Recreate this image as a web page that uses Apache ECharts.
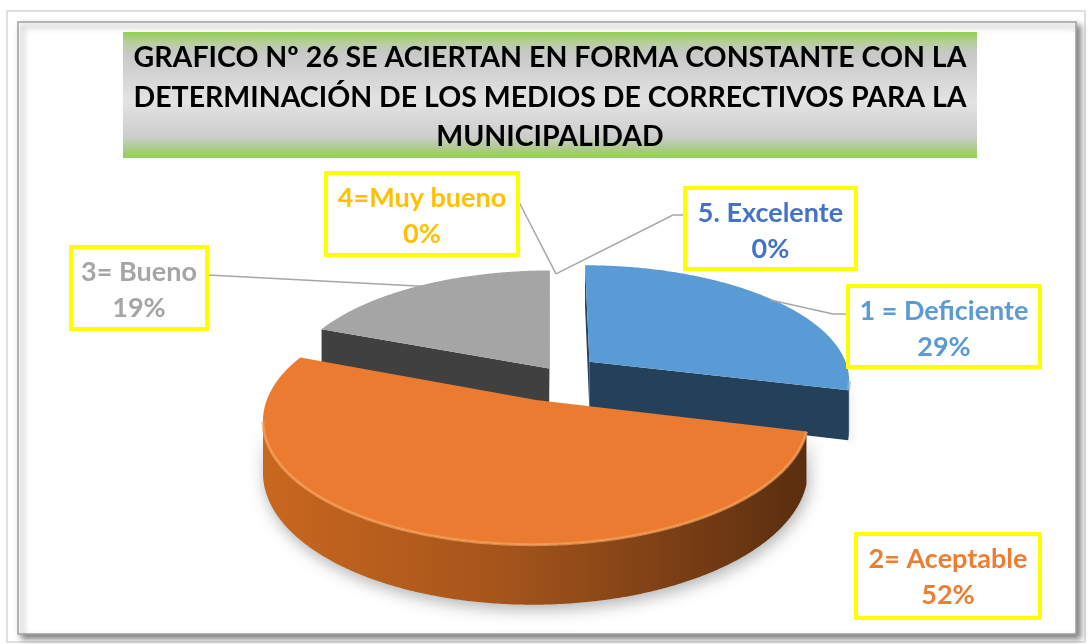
<!DOCTYPE html>
<html><head><meta charset="utf-8">
<script src="https://cdn.jsdelivr.net/npm/echarts@6/dist/echarts.min.js"></script>
<style>html,body{margin:0;padding:0;background:#fff}#c{width:1089px;height:644px}</style>
</head><body><div id="c"></div>
<script>
// ---------- data ----------
const categories = ['1 = Deficiente', '2= Aceptable', '3= Bueno', '4=Muy bueno', '5. Excelente'];
const percentages = [29, 52, 19, 0, 0];
const titleLines = [
  'GRAFICO Nº 26 SE ACIERTAN EN FORMA CONSTANTE CON LA',
  'DETERMINACIÓN DE LOS MEDIOS DE CORRECTIVOS PARA LA',
  'MUNICIPALIDAD'
];

// ---------- styles / layout ----------
const topColors = ['#5B9BD5', '#EA7B30', '#A5A5A5', '#FFC000', '#4472C4'];
const sideColors = ['#24405B', '#8A4818', '#404040', '#7F6000', '#223962'];
const labelColors = ['#5B9BD5', '#ED7D31', '#A5A5A5', '#FFC000', '#4472C4'];
const explodeAmt = [0.165, 0.24, 0.048, 0, 0];
const labelBoxes = [[848, 286, 192, 81], [856, 534, 184, 84], [71, 247, 136, 82], [326, 173, 192, 82], [685, 188, 171, 81]];
const leaderPaths = [[[833, 314], [848, 314]], [], [[208, 275]], [[519, 202]], [[673, 215], [685, 215]]];
const G = { cx: 556, cy: 373, A: 260, B: 114, k: 0.15, H: 49 };
const FONT = 'Lato, "Open Sans", sans-serif';

function P(X, W, down) {
  const s = 1 / (1 + G.k * W);
  return [G.cx + G.A * X * s, G.cy - G.B * W * s + (down ? G.H * s : 0)];
}
const total = percentages.reduce((a, b) => a + b, 0);
function angles(i) {
  let st = 0;
  for (let j = 0; j < i; j++) st += percentages[j];
  return [st / total * Math.PI * 2, (st + percentages[i]) / total * Math.PI * 2];
}
// depth rank: farther slices (larger W of bisector) drawn first
const depth = percentages.map((v, i) => {
  const [a1, a2] = angles(i); const m = (a1 + a2) / 2;
  return (1 + explodeAmt[i]) * Math.cos(m);
});
const order = percentages.map((v, i) => i).sort((a, b) => depth[b] - depth[a]);
const rankOf = {}; order.forEach((idx, r) => rankOf[idx] = r);

const camW = -1 / G.k;

function wallFill(i) {
  if (i === 1) {
    return new echarts.graphic.LinearGradient(0, 0, 1, 0, [
      { offset: 0, color: '#C9671F' }, { offset: 0.45, color: '#A4541B' }, { offset: 1, color: '#5A2E10' }
    ]);
  }
  return sideColors[i];
}

function renderItem(params, api) {
  const i = params.dataIndex;
  const val = api.value(1);
  const [a1, a2] = angles(i);
  const base = rankOf[i] * 6;
  const children = [];
  let anchor;
  if (val > 0) {
    const mid = (a1 + a2) / 2;
    const ox = explodeAmt[i] * Math.sin(mid), ow = explodeAmt[i] * Math.cos(mid);
    const n = Math.max(2, Math.ceil((a2 - a1) / (Math.PI / 360)));
    const pts = [];
    for (let t = 0; t <= n; t++) {
      const th = a1 + (a2 - a1) * t / n;
      pts.push([ox + Math.sin(th), ow + Math.cos(th), th]);
    }
    // cut faces
    [[a1, -Math.cos(a1), Math.sin(a1)], [a2, Math.cos(a2), -Math.sin(a2)]].forEach(([a, nx, nw]) => {
      const ex = ox + Math.sin(a), ew = ow + Math.cos(a);
      const px = (ox + ex) / 2, pw = (ow + ew) / 2;
      if (nx * (0 - px) + nw * (camW - pw) > 0) {
        children.push({ type: 'polygon', z2: base + 1,
          shape: { points: [P(ox, ow), P(ex, ew), P(ex, ew, true), P(ox, ow, true)] },
          style: { fill: sideColors[i] } });
      }
    });
    // outer walls (front-facing parts)
    const segs = []; let seg = [];
    pts.forEach(p => {
      const vis = Math.sin(p[2]) * (0 - p[0]) + Math.cos(p[2]) * (camW - p[1]) > 0;
      if (vis) seg.push(p); else { if (seg.length > 1) segs.push(seg); seg = []; }
    });
    if (seg.length > 1) segs.push(seg);
    segs.forEach(sg => {
      const topPts = sg.map(p => P(p[0], p[1]));
      const botPts = sg.map(p => P(p[0], p[1], true)).reverse();
      children.push({ type: 'polygon', z2: base,
        shape: { points: topPts.concat(botPts) },
        style: { fill: wallFill(i), shadowBlur: i === 1 ? 16 : 6, shadowColor: 'rgba(0,0,0,0.30)', shadowOffsetY: 5, shadowOffsetX: 2 } });
      children.push({ type: 'polyline', z2: base + 3,
        shape: { points: topPts },
        style: { stroke: i === 1 ? '#F7A25E' : '#7FB3E3', lineWidth: 3, fill: null, opacity: 0.7 } });
    });
    // top face
    children.push({ type: 'polygon', z2: base + 2,
      shape: { points: [P(ox, ow)].concat(pts.map(p => P(p[0], p[1]))) },
      style: { fill: topColors[i] } });
    anchor = P(ox + 0.99 * Math.sin(mid), ow + 0.99 * Math.cos(mid));
  } else {
    anchor = P(Math.sin(a1), Math.cos(a1));
  }
  // leader line
  if (leaderPaths[i].length) {
    children.push({ type: 'polyline', z2: 45,
      shape: { points: [anchor].concat(leaderPaths[i]) },
      style: { stroke: '#A6A6A6', lineWidth: 1.5, fill: null } });
  }
  // label box
  const [bx, by, bw, bh] = labelBoxes[i];
  children.push({ type: 'rect', z2: 50,
    shape: { x: bx, y: by, width: bw, height: bh },
    style: { fill: '#fff', stroke: '#FFFF00', lineWidth: 4 } });
  children.push({ type: 'text', z2: 51, x: bx + bw / 2, y: by + 25.5,
    style: { text: categories[i], fill: labelColors[i], font: 'bold 27px ' + FONT, align: 'center', verticalAlign: 'middle' } });
  children.push({ type: 'text', z2: 51, x: bx + bw / 2, y: by + 61,
    style: { text: val + '%', fill: labelColors[i], font: 'bold 27px ' + FONT, align: 'center', verticalAlign: 'middle' } });
  return { type: 'group', children };
}

const chart = echarts.init(document.getElementById('c'));
const titleEls = titleLines.map((t, j) => ({
  type: 'text', x: 550, y: 58 + j * 39.5, z: -1,
  style: { text: t, fill: '#000', font: 'bold 28.5px ' + FONT, align: 'center', verticalAlign: 'middle' }
}));
chart.setOption({
  animation: false,
  graphic: [
    { type: 'rect', z: -10, shape: { x: 7, y: 11, width: 1078, height: 631 }, style: { fill: '#fff', stroke: '#D6D6D6', lineWidth: 1.5 } },
    { type: 'rect', z: -9, shape: { x: 18, y: 22, width: 1058, height: 612 },
      style: { fill: '#fff', stroke: '#A0A0A0', lineWidth: 1.5, shadowBlur: 6, shadowColor: 'rgba(0,0,0,0.5)', shadowOffsetX: 4, shadowOffsetY: 4 } },
    { type: 'rect', z: -8, shape: { x: 123, y: 32, width: 854, height: 126 },
      style: { fill: new echarts.graphic.LinearGradient(0, 0, 0, 1, [
        { offset: 0, color: '#92D050' }, { offset: 0.08, color: '#B5CF9A' }, { offset: 0.17, color: '#C8C8C8' },
        { offset: 0.55, color: '#E3E3E3' }, { offset: 0.83, color: '#CDCDCD' }, { offset: 0.92, color: '#AECB8E' },
        { offset: 1, color: '#92D050' }]) } }
  ].concat(titleEls),
  series: [{
    type: 'custom',
    coordinateSystem: 'none',
    renderItem: renderItem,
    data: percentages.map((v, i) => [i, v])
  }]
});
</script>
</body></html>
